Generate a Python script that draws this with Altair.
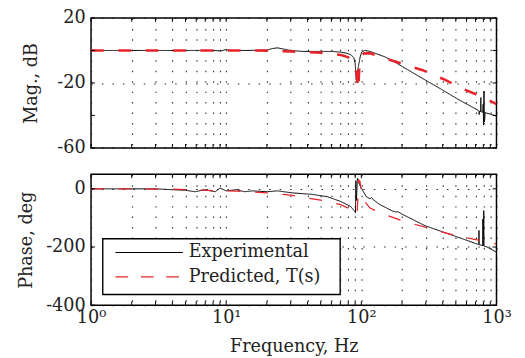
import altair as alt
import pandas as pd

# ---------------- data ----------------
series = ["Experimental", "Predicted, T(s)"]

exp_mag_freq = [1, 3, 5, 8, 9.2, 10, 10.8, 14, 20, 22, 24, 26, 30, 37, 50, 61, 70, 78, 84, 88, 90,
                91.6, 93, 95, 98, 100.7, 106, 115, 129, 150, 171, 200, 297, 400, 517, 650, 730, 740,
                745, 750, 762, 766, 770, 790, 798, 802, 808, 815, 825, 900, 1000]
exp_mag_db = [0, 0, 0, 0, -0.3, 0.6, 0, 0, 0.2, 1.2, 1.6, 1.0, 0, -0.6, -0.6, -0.6, -1.0, -1.7, -2.7, -4.5, -8,
              -18, -15, -10, -4, -1, 0, -0.5, -2, -4, -6.5, -9.8, -18.2, -24.4, -30, -34.5, -36.8, -37.3,
              -39.5, -37.4, -37.6, -29, -37.8, -38, -33, -46, -25, -44, -38.3, -39.2, -40.5]

pred_mag_freq = [1, 10, 20, 30, 50, 60, 72, 80, 85, 88, 90, 92, 94, 95, 96, 97, 100, 105, 116, 136, 180,
                 281, 414, 578, 807, 1000]
pred_mag_db = [0, 0, -0.1, -0.6, -1.4, -2, -3, -4.2, -6, -8, -10, -14, -21, -24, -15, -8, -3.5, -1.7,
               -1.8, -3.7, -7, -12, -18, -24, -29, -33]

exp_ph_freq = [1, 3, 4, 5, 5.9, 6.9, 8.3, 9.0, 10, 12, 13.6, 15.6, 20, 24, 31, 43, 56, 70, 83, 89, 90.5,
               91, 92, 93.5, 95, 98, 103.5, 109, 116, 119, 123, 137, 171, 183, 186, 200, 297, 517, 722,
               740, 742, 745, 790, 793, 797, 805, 810, 852, 1000]
exp_ph_deg = [0, 0, -3, -5, -10, -3, -10, 3, -7, -3, -10, -7, -10, -7, -14, -19, -27, -43, -60, -76, -82,
              28, -40, 36, 28, 10, -10, -27, -34, -30, -38, -54, -77, -80, -78, -87, -127, -166, -190,
              -191, -143, -192, -195, -104, -196, -75, -197, -200, -218]

pred_ph_freq = [1, 4, 5, 8, 12, 20, 30, 50, 70, 85, 93, 94.5, 95.5, 97.7, 100.7, 105, 116, 137, 201, 297,
                437, 646, 927, 1000]
pred_ph_deg = [0, -1, -3, -6, -8, -14, -22, -39, -54, -72, -88, -20, 30, 25, -21, -42, -66, -82, -110,
               -132, -154, -171, -186, -189]

x_ticks = [1, 2, 3, 4, 5, 6, 7, 8, 9, 10, 20, 30, 40, 50, 60, 70, 80, 90,
           100, 200, 300, 400, 500, 600, 700, 800, 900, 1000]
mag_ticks = [20, 0, -20, -40, -60]
phase_ticks = [0, -200, -400]


def frame(freqs, vals, name):
    return pd.DataFrame({"f": freqs, "v": vals, "series": name, "i": list(range(len(freqs)))})


mag_df = pd.concat([frame(exp_mag_freq, exp_mag_db, series[0]),
                    frame(pred_mag_freq, pred_mag_db, series[1])], ignore_index=True)
phase_df = pd.concat([frame(exp_ph_freq, exp_ph_deg, series[0]),
                      frame(pred_ph_freq, pred_ph_deg, series[1])], ignore_index=True)

W = 415
H1 = 133
H2 = 134
FONT = "DejaVu Serif"
TXT = "#222222"
RED = "#e8232b"

xscale = alt.Scale(type="log", domain=[1, 1000], nice=False)
color_scale = alt.Scale(domain=series, range=["#000000", RED])
dash_scale = alt.Scale(domain=series, range=[[1, 0], [13, 15]])

sup_expr = ("datum.value == 1 ? '10⁰' : datum.value == 10 ? '10¹' : "
            "datum.value == 100 ? '10²' : datum.value == 1000 ? '10³' : ''")

grid_kw = dict(grid=True, gridDash=[1.5, 9.2], gridColor="#111111", gridWidth=1.1, gridOpacity=0.9)


def tick_layers(h, ydf, yscale):
    xt = pd.DataFrame({"f": x_ticks})
    yt = pd.DataFrame({"v": ydf})
    bx = alt.Chart(xt).mark_rule(color="black", strokeWidth=1).encode(
        x=alt.X("f:Q", scale=xscale), y=alt.value(h), y2=alt.value(h - 4))
    tx = alt.Chart(xt).mark_rule(color="black", strokeWidth=1).encode(
        x=alt.X("f:Q", scale=xscale), y=alt.value(0), y2=alt.value(4))
    ly = alt.Chart(yt).mark_rule(color="black", strokeWidth=1).encode(
        y=alt.Y("v:Q", scale=yscale), x=alt.value(0), x2=alt.value(4))
    ry = alt.Chart(yt).mark_rule(color="black", strokeWidth=1).encode(
        y=alt.Y("v:Q", scale=yscale), x=alt.value(W), x2=alt.value(W - 4))
    return [bx, tx, ly, ry]


mag_y = alt.Scale(domain=[-60, 20], nice=False, zero=False)
phase_y = alt.Scale(domain=[-400, 50], nice=False, zero=False)

mag_lines = alt.Chart(mag_df).mark_line(clip=True).encode(
    x=alt.X("f:Q", scale=xscale,
            axis=alt.Axis(values=x_ticks, labels=False, ticks=False, domain=False, title=None, **grid_kw)),
    y=alt.Y("v:Q", scale=mag_y,
            axis=alt.Axis(values=mag_ticks, title="Mag., dB", domain=False, ticks=False,
                          labelExpr="datum.value + ''", labelPadding=6, titlePadding=17, **grid_kw)),
    color=alt.Color("series:N", scale=color_scale, legend=None),
    strokeDash=alt.StrokeDash("series:N", scale=dash_scale, legend=None),
    strokeWidth=alt.StrokeWidth("series:N", scale=alt.Scale(domain=series, range=[1.0, 2.6]), legend=None),
    order=alt.Order("i:Q"),
)

top = alt.layer(mag_lines, *tick_layers(H1, mag_ticks, mag_y)).properties(width=W, height=H1)

phase_lines = alt.Chart(phase_df).mark_line(clip=True).encode(
    x=alt.X("f:Q", scale=xscale,
            axis=alt.Axis(values=x_ticks, labelExpr=sup_expr, labelFlush=False, labelOverlap=False,
                          ticks=False, domain=False, title="Frequency, Hz", labelPadding=4,
                          titlePadding=11, **grid_kw)),
    y=alt.Y("v:Q", scale=phase_y,
            axis=alt.Axis(values=phase_ticks, title="Phase, deg", domain=False, ticks=False,
                          labelExpr="datum.value + ''", labelPadding=6, titlePadding=11, **grid_kw)),
    color=alt.Color("series:N", scale=color_scale, legend=None),
    strokeDash=alt.StrokeDash("series:N", scale=dash_scale, legend=None),
    strokeWidth=alt.StrokeWidth("series:N", scale=alt.Scale(domain=series, range=[1.0, 1.3]), legend=None),
    order=alt.Order("i:Q"),
)

# ---- legend box drawn inside the phase panel ----
leg_one = pd.DataFrame({"k": [0]})
leg_box = alt.Chart(leg_one).mark_rect(fill="white", stroke="black", strokeWidth=1.4).encode(
    x=alt.value(12), x2=alt.value(255), y=alt.value(66), y2=alt.value(123))
leg_exp = pd.DataFrame({"series": [series[0]]})
leg_pred = pd.DataFrame({"series": [series[1]]})
leg_line1 = alt.Chart(leg_exp).mark_rule(color="black", strokeWidth=1.1).encode(
    x=alt.value(25), x2=alt.value(94), y=alt.value(80))
leg_line2 = alt.Chart(leg_pred).mark_rule(color=RED, strokeWidth=1.3, strokeDash=[13, 13]).encode(
    x=alt.value(25), x2=alt.value(94), y=alt.value(105))
leg_txt1 = alt.Chart(leg_exp).mark_text(align="left", baseline="middle", font=FONT, fontSize=18,
                                        color=TXT).encode(
    x=alt.value(100), y=alt.value(80), text="series:N")
leg_txt2 = alt.Chart(leg_pred).mark_text(align="left", baseline="middle", font=FONT, fontSize=18,
                                         color=TXT).encode(
    x=alt.value(100), y=alt.value(105), text="series:N")

bottom = alt.layer(phase_lines, *tick_layers(H2, phase_ticks, phase_y),
                   leg_box, leg_line1, leg_line2, leg_txt1, leg_txt2).properties(width=W, height=H2)

chart = alt.vconcat(top, bottom, spacing=15).resolve_scale(
    color="independent", strokeDash="independent", strokeWidth="independent"
).properties(
    padding={"left": 8, "top": -4, "right": 5, "bottom": 5}
).configure(
    font=FONT
).configure_view(
    stroke="black", strokeWidth=1.5
).configure_axis(
    labelFont=FONT, titleFont=FONT, labelFontSize=18, titleFontSize=18,
    labelColor=TXT, titleColor=TXT, titleFontWeight="normal"
)

chart.save("out.html", embed_options={"renderer": "svg", "actions": False})
